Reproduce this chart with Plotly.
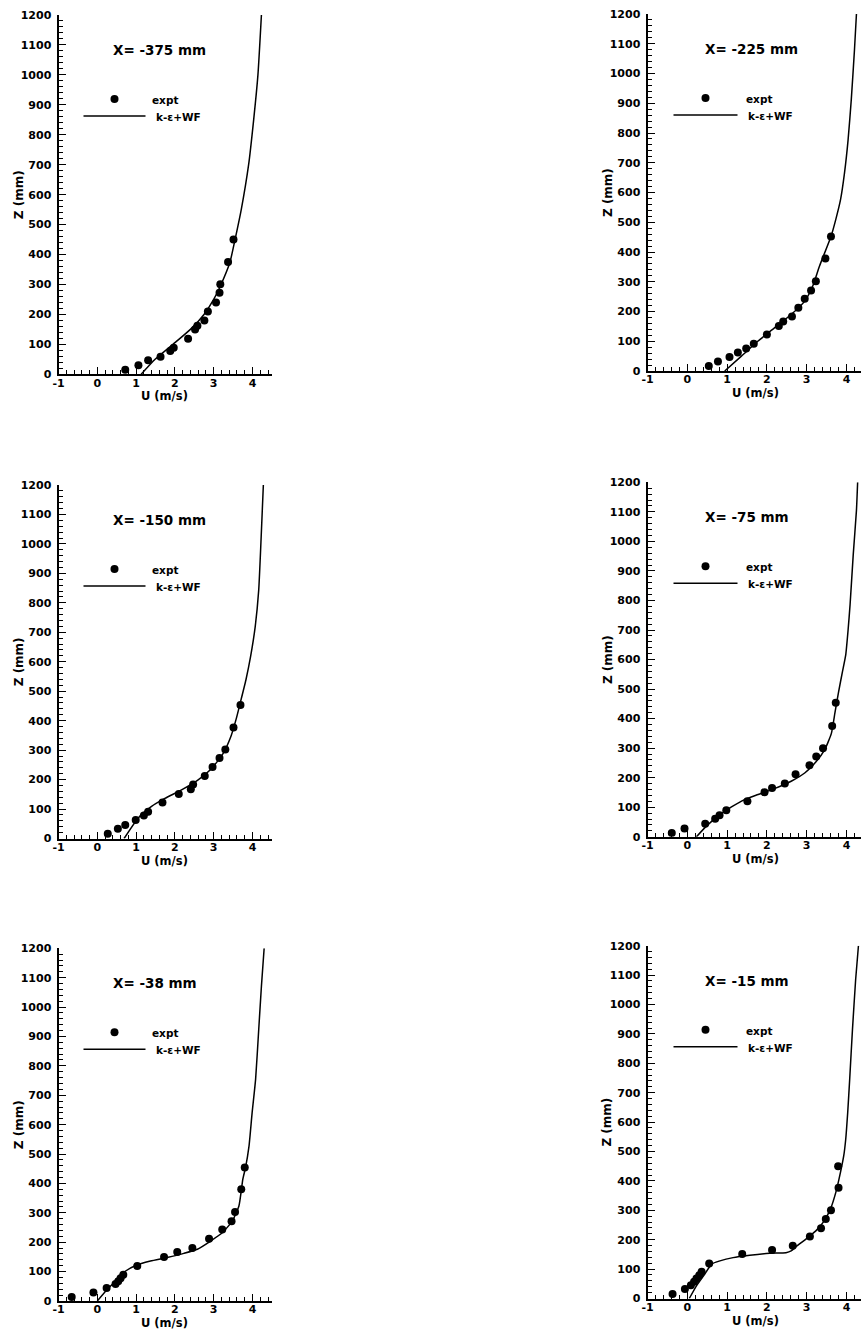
import plotly.graph_objects as go

W, H = 861, 1333

# ---------------- data ----------------
titles = ["X= -375 mm", "X= -225 mm", "X= -150 mm", "X= -75 mm", "X= -38 mm", "X= -15 mm"]
x_ticks = [-1, 0, 1, 2, 3, 4]
z_ticks = [0, 100, 200, 300, 400, 500, 600, 700, 800, 900, 1000, 1100, 1200]

# X = -375 mm
u_exp_375 = [0.72, 1.06, 1.31, 1.63, 1.88, 1.97, 2.34, 2.52, 2.58, 2.76, 2.85, 3.06, 3.15, 3.17, 3.37, 3.51]
z_exp_375 = [15, 30, 47, 59, 78, 89, 119, 150, 162, 180, 210, 240, 272, 301, 375, 450]
u_mod_375 = [1.13, 1.49, 1.95, 2.40, 2.75, 3.00, 3.19, 3.42, 3.55, 3.71, 3.90, 4.03, 4.14, 4.23]
z_mod_375 = [0, 50, 100, 150, 200, 250, 300, 375, 450, 550, 700, 850, 1000, 1200]

# X = -225 mm
u_exp_225 = [0.54, 0.77, 1.06, 1.27, 1.48, 1.67, 2.00, 2.30, 2.41, 2.63, 2.79, 2.95, 3.11, 3.23, 3.47, 3.61]
z_exp_225 = [17, 32, 47, 62, 76, 92, 123, 151, 166, 183, 213, 243, 271, 302, 378, 452]
u_mod_225 = [0.94, 1.36, 1.77, 2.19, 2.61, 2.95, 3.15, 3.32, 3.61, 3.73, 3.85, 3.95, 4.04, 4.12, 4.20, 4.25]
z_mod_225 = [0, 50, 100, 145, 190, 235, 285, 352, 452, 509, 576, 666, 777, 912, 1079, 1200]

# X = -150 mm
u_exp_150 = [0.27, 0.53, 0.72, 0.99, 1.20, 1.31, 1.68, 2.10, 2.41, 2.47, 2.77, 2.97, 3.15, 3.30, 3.51, 3.69]
z_exp_150 = [16, 33, 46, 63, 78, 91, 122, 151, 167, 183, 212, 243, 273, 302, 377, 453]
u_mod_150 = [0.69, 1.05, 1.39, 1.74, 2.16, 2.59, 2.94, 3.24, 3.45, 3.58, 3.67, 3.83, 3.95, 4.07, 4.16, 4.22, 4.28]
z_mod_150 = [0, 69, 108, 136, 164, 198, 237, 288, 349, 406, 453, 538, 617, 719, 843, 1013, 1200]

# X = -75 mm
u_exp_75 = [-0.39, -0.07, 0.45, 0.70, 0.81, 0.98, 1.51, 1.94, 2.13, 2.45, 2.72, 3.07, 3.24, 3.41, 3.64, 3.73]
z_exp_75 = [13, 28, 44, 61, 73, 90, 120, 151, 165, 180, 212, 242, 272, 300, 375, 454]
u_mod_75 = [0.23, 0.48, 0.77, 1.11, 1.44, 1.78, 2.19, 2.61, 2.95, 3.24, 3.45, 3.62, 3.71, 3.80, 3.90, 3.98, 4.04, 4.09, 4.17, 4.25, 4.28]
z_mod_75 = [0, 36, 70, 101, 126, 143, 163, 188, 216, 255, 294, 350, 420, 490, 560, 615, 700, 786, 957, 1105, 1200]

# X = -38 mm
u_exp_38 = [-0.66, -0.10, 0.24, 0.47, 0.54, 0.60, 0.67, 1.03, 1.72, 2.06, 2.45, 2.88, 3.22, 3.46, 3.55, 3.71, 3.80]
z_exp_38 = [14, 29, 44, 58, 67, 77, 89, 119, 150, 167, 180, 212, 243, 271, 303, 380, 454]
u_mod_38 = [0.0, 0.26, 0.52, 0.73, 0.99, 1.37, 1.80, 2.23, 2.58, 2.92, 3.22, 3.48, 3.65, 3.75, 3.82, 3.91, 3.99, 4.08, 4.16, 4.23, 4.30]
z_mod_38 = [0, 40, 74, 102, 121, 136, 148, 162, 176, 204, 232, 272, 323, 414, 454, 527, 640, 754, 923, 1071, 1200]

# X = -15 mm
u_exp_15 = [-0.37, -0.06, 0.09, 0.17, 0.23, 0.30, 0.36, 0.55, 1.38, 2.13, 2.65, 3.08, 3.36, 3.48, 3.61, 3.80, 3.79]
z_exp_15 = [15, 32, 45, 57, 68, 79, 91, 119, 151, 165, 179, 211, 239, 270, 300, 377, 450]
u_mod_15 = [0.05, 0.23, 0.44, 0.61, 0.82, 1.15, 1.57, 2.07, 2.48, 2.61, 2.73, 2.98, 3.23, 3.44, 3.61, 3.73, 3.81, 3.93, 3.98, 4.03, 4.08, 4.15, 4.23, 4.30]
z_mod_15 = [0, 43, 83, 117, 128, 139, 147, 154, 156, 162, 176, 202, 230, 264, 309, 360, 405, 485, 541, 632, 745, 915, 1085, 1200]

exp_u = [u_exp_375, u_exp_225, u_exp_150, u_exp_75, u_exp_38, u_exp_15]
exp_z = [z_exp_375, z_exp_225, z_exp_150, z_exp_75, z_exp_38, z_exp_15]
mod_u = [u_mod_375, u_mod_225, u_mod_150, u_mod_75, u_mod_38, u_mod_15]
mod_z = [z_mod_375, z_mod_225, z_mod_150, z_mod_75, z_mod_38, z_mod_15]

# ---------------- layout geometry (pixels) ----------------
LEFT = dict(x0=58.5, ppu=38.8)
RIGHT = dict(x0=647.5, ppu=39.8)
rows = [(15, 374.3, 14, 371), (485, 838.5, 482.3, 836.8), (948.3, 1301, 945.7, 1298.5)]

FONT = "DejaVu Sans"
BLACK = "black"

fig = go.Figure()
layout = dict(
    template="none",
    width=W, height=H, margin=dict(l=0, r=0, t=0, b=0, pad=0, autoexpand=False),
    paper_bgcolor="white", plot_bgcolor="white", showlegend=False,
    annotations=[], shapes=[],
)

for i in range(6):
    col = LEFT if i % 2 == 0 else RIGHT
    r = rows[i // 2]
    ytop, ybot = (r[0], r[1]) if i % 2 == 0 else (r[2], r[3])
    x0 = col["x0"]
    ppu = col["ppu"]
    x1 = min(x0 + 5.5 * ppu, W)
    dw = x1 - x0
    dh = ybot - ytop
    xmax = -1 + dw / ppu
    n = i + 1
    xa = "x" if n == 1 else f"x{n}"
    ya = "y" if n == 1 else f"y{n}"
    xkey = "xaxis" if n == 1 else f"xaxis{n}"
    ykey = "yaxis" if n == 1 else f"yaxis{n}"

    tickfont = dict(family=FONT, size=11, color=BLACK, weight="bold")
    layout[xkey] = dict(
        domain=[x0 / W, x1 / W], range=[-1, xmax], anchor=ya, automargin=False,
        tickmode="array", tickvals=x_ticks, ticktext=[str(t) for t in x_ticks],
        ticks="inside", ticklen=7, tickwidth=1.4, tickcolor=BLACK,
        showline=True, linewidth=2, linecolor=BLACK, showgrid=False, zeroline=False,
        tickfont=tickfont, ticklabelstandoff=-3,
        minor=dict(tick0=0, dtick=0.2, ticks="inside", ticklen=4, tickwidth=1.1,
                   tickcolor=BLACK, showgrid=False),
        fixedrange=True,
    )
    layout[ykey] = dict(
        domain=[1 - ybot / H, 1 - ytop / H], range=[0, 1200], anchor=xa, automargin=False,
        tickmode="array", tickvals=z_ticks, ticktext=[str(t) for t in z_ticks],
        ticks="inside", ticklen=7, tickwidth=1.4, tickcolor=BLACK,
        showline=True, linewidth=2, linecolor=BLACK, showgrid=False, zeroline=False,
        tickfont=tickfont, ticklabelstandoff=3,
        minor=dict(tick0=0, dtick=20, ticks="inside", ticklen=4, tickwidth=1.1,
                   tickcolor=BLACK, showgrid=False),
        fixedrange=True,
    )

    # data traces
    fig.add_trace(go.Scatter(x=mod_u[i], y=mod_z[i], mode="lines",
                             line=dict(color=BLACK, width=1.5, shape="spline", smoothing=0.5),
                             xaxis=xa, yaxis=ya, name="k-ε+WF"))
    fig.add_trace(go.Scatter(x=exp_u[i], y=exp_z[i], mode="markers",
                             marker=dict(color=BLACK, size=8, symbol="circle"),
                             xaxis=xa, yaxis=ya, name="expt"))

    xd = f"{xa} domain"
    yd = f"{ya} domain"

    def fx(px):
        return px / dw

    def fy(py):
        return 1 - py / dh

    # title
    layout["annotations"].append(dict(
        x=fx(52 if i % 2 == 0 else 55), y=fy(35), xref=xd, yref=yd, text=titles[i],
        showarrow=False, xanchor="left", yanchor="middle",
        font=dict(family=FONT, size=13.5, color=BLACK, weight="bold")))

    # legend (drawn by hand to match the original placement)
    if i % 2 == 0:
        dot_x, line_x0, line_x1, tx1, tx2 = 56, 25, 87, 91, 95
    else:
        dot_x, line_x0, line_x1, tx1, tx2 = 58, 26, 90, 96, 98
    layout["shapes"].append(dict(
        type="circle", xref=xd, yref=yd, xsizemode="pixel", ysizemode="pixel",
        xanchor=fx(dot_x), yanchor=fy(84), x0=-4, x1=4, y0=-4, y1=4,
        fillcolor=BLACK, line=dict(width=0)))
    layout["shapes"].append(dict(
        type="line", xref=xd, yref=yd, x0=fx(line_x0), x1=fx(line_x1), y0=fy(101), y1=fy(101),
        line=dict(color=BLACK, width=1.5)))
    layout["annotations"].append(dict(
        x=fx(tx1), y=fy(85), xref=xd, yref=yd, text="expt", showarrow=False,
        xanchor="left", yanchor="middle",
        font=dict(family=FONT, size=10.5, color=BLACK, weight="bold")))
    layout["annotations"].append(dict(
        x=fx(tx2), y=fy(102), xref=xd, yref=yd, text="k-ε+WF", showarrow=False,
        xanchor="left", yanchor="middle",
        font=dict(family=FONT, size=10.5, color=BLACK, weight="bold")))

    # axis titles
    layout["annotations"].append(dict(
        x=fx(-40), y=0.5, xref=xd, yref=yd, text="Z (mm)", showarrow=False,
        textangle=-90, xanchor="center", yanchor="middle",
        font=dict(family=FONT, size=12, color=BLACK, weight="bold")))
    layout["annotations"].append(dict(
        x=fx(2.72 * ppu), y=fy(dh + 22), xref=xd, yref=yd, text="U (m/s)", showarrow=False,
        xanchor="center", yanchor="middle",
        font=dict(family=FONT, size=11.5, color=BLACK, weight="bold")))

fig.update_layout(**layout)
fig.write_html("out.html")
